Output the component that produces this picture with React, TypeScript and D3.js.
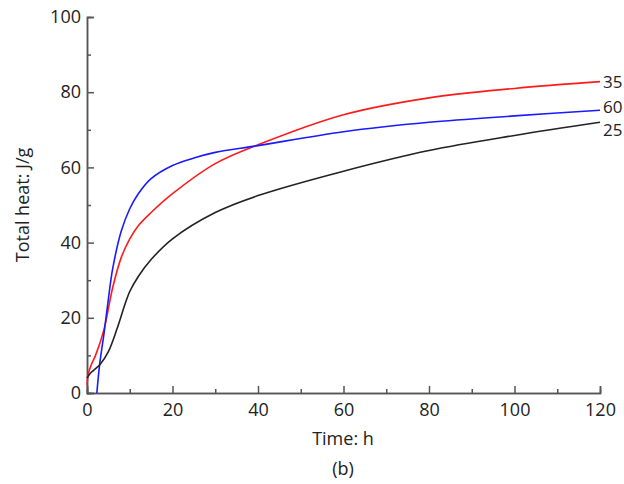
import React, { useEffect, useRef } from 'react';
import * as d3 from 'd3';

const T25 = [0, 1, 2, 3, 5, 7, 9, 10, 12, 15, 20, 30, 40, 60, 80, 100, 120];
const V25 = [4, 5.5, 6.5, 7.5, 11, 17, 24, 27, 31, 35.5, 41, 48, 52.5, 59, 64.5, 68.5, 72];
const T35 = [0, 0.3, 1, 2, 4, 6, 8, 10, 12, 15, 20, 30, 40, 60, 80, 100, 120];
const V35 = [2, 5, 7.5, 10, 17, 28, 36, 41, 44.5, 48, 53, 61, 66, 74, 78.5, 81, 82.8];
const T60 = [2.3, 3, 4, 5, 6, 8, 10, 12, 15, 20, 25, 30, 40, 60, 80, 100, 120];
const V60 = [0, 8, 16, 25, 33, 43, 49, 53, 57, 60.5, 62.5, 64, 65.8, 69.5, 72, 73.7, 75.2];
const SERIES = [
  { label: '35', t: T35, v: V35, color: '#ff1a1a' },
  { label: '60', t: T60, v: V60, color: '#1a1aff' },
  { label: '25', t: T25, v: V25, color: '#222222' },
];
const LABEL_Y: Record<string, number> = { '35': 88, '60': 113, '25': 136 };

const App: React.FC = () => {
  const ref = useRef<SVGSVGElement>(null);
  useEffect(() => {
    const svg = d3.select(ref.current!);
    svg.selectAll('*').remove();
    const x = d3.scaleLinear().domain([0, 120]).range([87, 600]);
    const y = d3.scaleLinear().domain([0, 100]).range([393, 17]);
    const font = "'Open Sans', sans-serif";
    const axisColor = '#555';

    const xa = svg.append('g').attr('transform', 'translate(0,393)');
    xa.call(d3.axisBottom(x).tickValues([0, 20, 40, 60, 80, 100, 120]).tickSize(-7).tickPadding(10));
    xa.append('g').call(d3.axisBottom(x).tickValues([10, 30, 50, 70, 90, 110]).tickSize(-4).tickFormat(() => ''));
    const ya = svg.append('g').attr('transform', 'translate(87,0)');
    ya.call(d3.axisLeft(y).tickValues([0, 20, 40, 60, 80, 100]).tickSize(-7).tickPadding(6));
    ya.append('g').call(d3.axisLeft(y).tickValues([10, 30, 50, 70, 90]).tickSize(-4).tickFormat(() => ''));
    svg.selectAll('.domain, .tick line').attr('stroke', axisColor).attr('stroke-width', 1.5);
    svg.selectAll('.tick text').attr('font-family', font).attr('font-size', 18).attr('fill', '#222');

    const line = d3.line<[number, number]>().x(d => x(d[0])).y(d => y(d[1])).curve(d3.curveCatmullRom.alpha(0.5));
    SERIES.forEach(s => {
      const pts = s.t.map((t, i) => [t, s.v[i]] as [number, number]);
      svg.append('path').attr('d', line(pts)).attr('fill', 'none')
        .attr('stroke', s.color).attr('stroke-width', 1.6);
      svg.append('text').attr('x', 603).attr('y', LABEL_Y[s.label])
        .attr('font-family', font).attr('font-size', 17).attr('fill', '#222').text(s.label);
    });

    svg.append('text').attr('x', 343).attr('y', 445).attr('text-anchor', 'middle')
      .attr('font-family', font).attr('font-size', 18).attr('fill', '#222').text('Time: h');
    svg.append('text').attr('x', 343).attr('y', 475).attr('text-anchor', 'middle')
      .attr('font-family', font).attr('font-size', 18).attr('fill', '#222').text('(b)');
    svg.append('text').attr('transform', 'translate(29,205) rotate(-90)').attr('text-anchor', 'middle')
      .attr('font-family', font).attr('font-size', 18).attr('fill', '#222').text('Total heat: J/g');
  }, []);
  return <svg ref={ref} width={624} height={484} style={{ position: 'absolute', left: 0, top: 0 }} />;
};

export default App;
